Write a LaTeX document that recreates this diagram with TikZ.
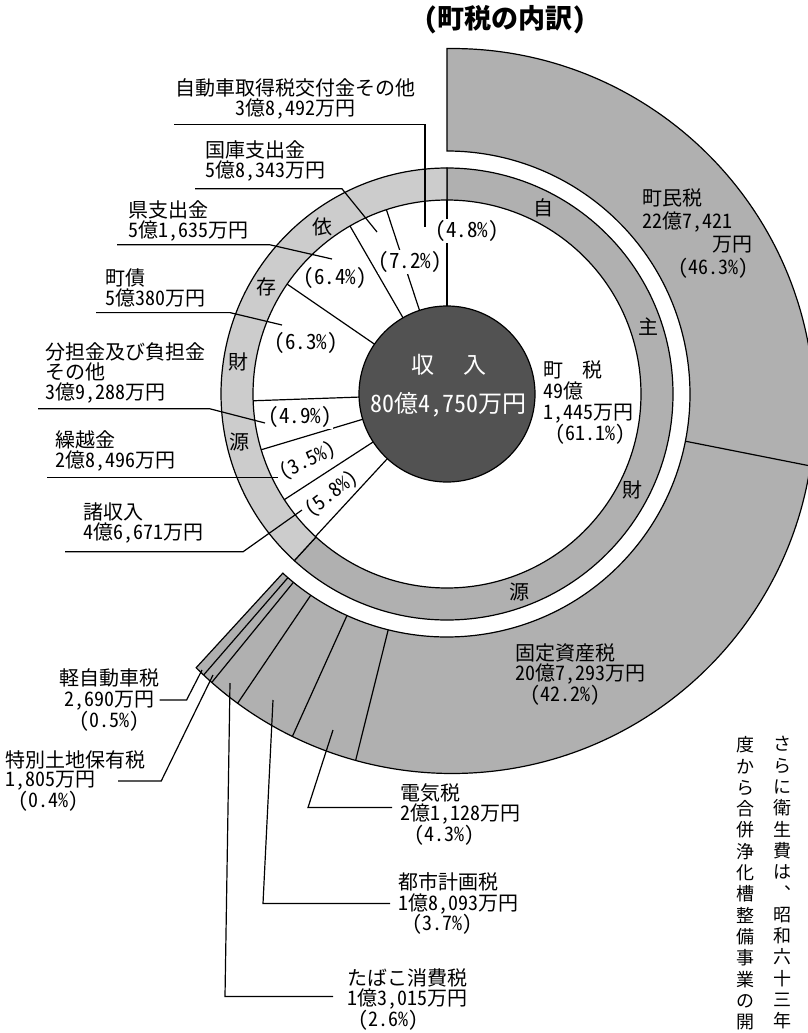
\documentclass[tikz,border=0pt]{standalone}
\usepackage{fontspec}
\setmainfont{Noto Sans CJK JP}[RawFeature=+hwid]
\newfontfamily\tatefont{Noto Sans CJK JP}
\usepackage{tikz}
\usetikzlibrary{calc}
\usepackage{xcolor}
\definecolor{ringgray}{gray}{0.69}
\definecolor{izongray}{gray}{0.80}
\definecolor{coregray}{gray}{0.32}

\begin{document}
\begin{tikzpicture}[x=1pt, y=1pt, line width=1.2pt,
  lbl/.style={font=\fontsize{20}{20}\selectfont, inner sep=0pt, align=left},
  pct/.style={font=\fontsize{21}{21}\selectfont, inner sep=1pt, fill=white},
  rch/.style={font=\fontsize{20}{20}\selectfont, inner sep=0pt},
  tate/.style={font=\tatefont\fontsize{18}{21.3}\selectfont, inner sep=0pt, align=center, anchor=north}]
  \useasboundingbox (0,0) rectangle (808,-1033);
  % centres of the rings
  \coordinate (C) at (447,-394);
  \coordinate (C2) at (452,-411);

  % title
  \node[font=\fontsize{27}{27}\selectfont\bfseries] (title) at (505,-20) {(町税の内訳)};

  % outer ring: breakdown of the town tax
  \filldraw[fill=ringgray] ($(C)+(90:243)$) -- ($(C2)+(90.8:362.5)$)
    arc[start angle=90.8, end angle=-134.9, radius=362.5]
    -- ($(C)+(-132.5:243)$) arc[start angle=-132.5, end angle=90, radius=243] -- cycle;
  \draw ($(C)+(-11.2:243)$) -- ($(C)+(-11.2:370.4)$);
  \draw ($(C)+(-104:243)$) -- ($(C)+(-104:377.7)$);
  \draw ($(C)+(-114.3:243)$) -- ($(C)+(-114.3:375.8)$);
  \draw ($(C)+(-124.1:243)$) -- ($(C)+(-124.1:373.5)$);
  \draw ($(C)+(-129.2:243)$) -- ($(C)+(-129.2:372.2)$);
  \draw ($(C)+(-130.9:243)$) -- ($(C)+(-130.9:371.8)$);

  % middle ring: own and dependent revenue
  \filldraw[fill=ringgray] ($(C)+(-132.5:194)$) arc[start angle=-132.5, end angle=90, radius=194]
    -- ($(C)+(90:226)$) arc[start angle=90, end angle=-132.5, radius=226] -- cycle;
  \filldraw[fill=izongray] ($(C)+(90:194)$) arc[start angle=90, end angle=227.5, radius=194]
    -- ($(C)+(227.5:226)$) arc[start angle=227.5, end angle=90, radius=226] -- cycle;

  % inner dividers
  \draw ($(C)+(90:88)$) -- ($(C)+(90:194)$);
  \draw ($(C)+(108.2:88)$) -- ($(C)+(108.2:194)$);
  \draw ($(C)+(120:88)$) -- ($(C)+(120:194)$);
  \draw ($(C)+(145.5:88)$) -- ($(C)+(145.5:194)$);
  \draw ($(C)+(182:88)$) -- ($(C)+(182:194)$);
  \draw ($(C)+(196.7:88)$) -- ($(C)+(196.7:194)$);
  \draw ($(C)+(213:88)$) -- ($(C)+(213:194)$);
  \draw ($(C)+(227.3:88)$) -- ($(C)+(227.3:194)$);

  % centre disc
  \filldraw[fill=coregray] (C) circle[radius=88];
  \node[white, font=\fontsize{23}{23}\selectfont] (shunyu) at (449,-365) {収\hspace{30pt}入};
  \node[white, font=\fontsize{24}{24}\selectfont] (sogaku) at (448,-405) {80億4,750万円};

  % ring characters
  \node[rch] (r-ji) at ($(C)+(62.7:210)$) {自};
  \node[rch] (r-shu) at ($(C)+(18.4:212)$) {主};
  \node[rch] (r-zai) at ($(C)+(-27.3:209)$) {財};
  \node[rch] (r-gen) at ($(C)+(-70:211)$) {源};
  \node[rch] (r-i) at ($(C)+(126.6:208)$) {依};
  \node[rch] (r-son) at ($(C)+(149.4:210)$) {存};
  \node[rch] (r-zai2) at ($(C)+(171.3:211)$) {財};
  \node[rch] (r-gen2) at ($(C)+(193:213)$) {源};

  % percentages
  \node[pct] (p-jido) at (467,-231) {(4.8\%)};
  \node[pct] (p-kokko) at (410,-262) {(7.2\%)};
  \node[pct] (p-ken) at (335,-278) {(6.4\%)};
  \node[pct] (p-chosai) at (306,-343) {(6.3\%)};
  \node[pct] (p-buntan) at (300,-417) {(4.9\%)};
  \node[pct, fill=none, inner sep=0pt, font=\fontsize{20}{20}\selectfont, rotate=26] (p-kuri) at (308,-461) {(3.5\%)};
  \node[pct, fill=none, inner sep=0pt, font=\fontsize{20}{20}\selectfont, rotate=37] (p-sho) at (332,-494) {(5.8\%)};

  % revenue labels
  \node[lbl, anchor=north, align=center] (jidosha) at (295,-78) {自動車取得税交付金その他\\3億8,492万円};
  \node[lbl, anchor=north west] (kokko) at (205,-140) {国庫支出金\\5億8,343万円};
  \node[lbl, anchor=north west] (ken) at (128,-200) {県支出金\\5億1,635万円};
  \node[lbl, anchor=north west] (chosai) at (105,-268) {町債\\5億380万円};
  \node[lbl, anchor=north west] (buntan) at (45,-342) {分担金及び負担金\\その他\\3億9,288万円};
  \node[lbl, anchor=north west] (kurikoshi) at (55,-430) {繰越金\\2億8,496万円};
  \node[lbl, anchor=north west] (shoshu) at (83,-502) {諸収入\\4億6,671万円};
  \node[lbl, anchor=north west, font=\fontsize{20}{21}\selectfont] (chozei) at (543,-360)
    {町\hspace{19pt}税\\49億\\1,445万円\\\hspace*{12pt}(61.1\%)};

  % town tax labels
  \node[lbl, anchor=north west, font=\fontsize{20}{23}\selectfont] (chomin) at (642,-188)
    {町民税\\22億7,421\\\hspace*{70pt}万円\\\hspace*{36pt}(46.3\%)};
  \node[lbl, anchor=north west] (kotei) at (515,-643) {固定資産税\\20億7,293万円\\\hspace*{15pt}(42.2\%)};
  \node[lbl, anchor=north, align=center, font=\fontsize{20}{21}\selectfont] (kei) at (109,-668) {軽自動車税\\2,690万円\\(0.5\%)};
  \node[lbl, anchor=north west, font=\fontsize{20}{19}\selectfont] (toku) at (5,-750) {特別土地保有税\\1,805万円\\\hspace*{13pt}(0.4\%)};
  \node[lbl, anchor=north west] (denki) at (400,-783) {電気税\\2億1,128万円\\\hspace*{14pt}(4.3\%)};
  \node[lbl, anchor=north west, font=\fontsize{20}{20.5}\selectfont] (toshi) at (398,-872) {都市計画税\\1億8,093万円\\\hspace*{14pt}(3.7\%)};
  \node[lbl, anchor=north west] (tabako) at (347,-968) {たばこ消費税\\1億3,015万円\\\hspace*{11pt}(2.6\%)};

  % leader ends
  \coordinate (jidosha-e) at (425,-227);
  \coordinate (kokko-e) at (377,-232);
  \coordinate (ken-e) at (332,-259);
  \coordinate (chosai-e) at (282,-325);
  \coordinate (buntan-e) at (265,-423);
  \coordinate (shoshu-e) at (302,-510);
  \coordinate (kei-e) at (202,-670);
  \coordinate (toku-e) at (213,-675);
  \coordinate (denki-e) at (333,-730);
  \coordinate (toshi-e) at (273,-700);
  \coordinate (tabako-e) at (230,-683);

  % leaders
  \draw ([yshift=-5pt]jidosha.south west) -| (jidosha-e);
  \draw ([xshift=-10pt,yshift=-7pt]kokko.south west) -- ++(147,0) -- (kokko-e);
  \draw ([xshift=-11pt,yshift=-3pt]ken.south west) -- ++(153,0) -- (ken-e);
  \draw ([xshift=-9pt,yshift=-5pt]chosai.south west) -- ++(134,0) -- (chosai-e);
  \draw ([xshift=-7pt,yshift=-5pt]buntan.south west) -- ++(172,0) -- (buntan-e);
  \draw ([xshift=-8pt,yshift=-6pt]kurikoshi.south west) -- ++(231,0) coordinate (kuri-e);
  \draw ([xshift=-18pt,yshift=-8pt]shoshu.south west) -- ++(178,0) -- (shoshu-e);
  \draw (kei.east) -- ++(27,0) -- (kei-e);
  \draw ([xshift=-28pt]toku.east) -- ++(43,0) -- (toku-e);
  \draw ([xshift=-8pt,yshift=7pt]denki.west) -- ++(-84,0) -- (denki-e);
  \draw ([xshift=-8pt]toshi.west) -- ++(-127,0) -- (toshi-e);
  \draw ([xshift=-14pt,yshift=3pt]tabako.west) -- ++(-108,0) -- (tabako-e);

  % vertical text at the page edge
  \node[tate] (tate1) at (745,-736) {度\\か\\ら\\合\\併\\浄\\化\\槽\\整\\備\\事\\業\\の\\開};
  \node[tate] (tate2) at (782,-736) {さ\\ら\\に\\衛\\生\\費\\は\\︑\\昭\\和\\六\\十\\三\\年};
\end{tikzpicture}
\end{document}
